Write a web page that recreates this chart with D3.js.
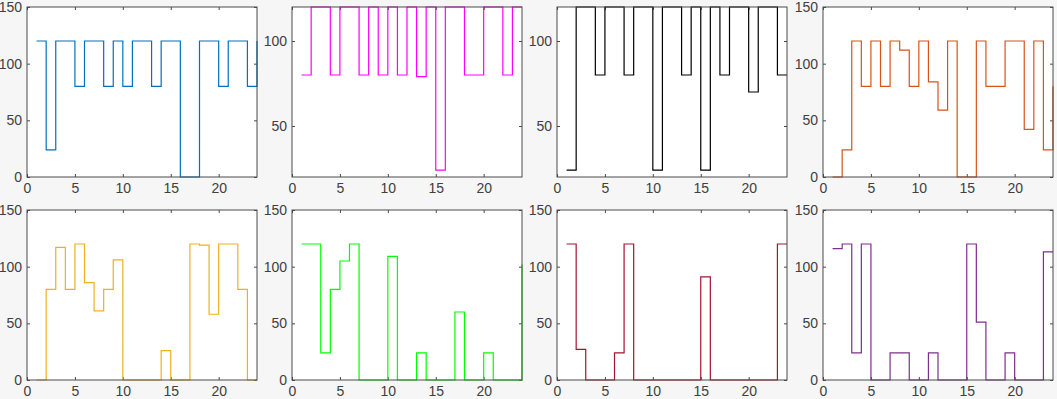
<!DOCTYPE html>
<html>
<head>
<meta charset="utf-8">
<script src="https://cdn.jsdelivr.net/npm/d3@7"></script>
<style>
  body { margin: 0; background: #f6f6f6; }
  svg { display: block; }
  .tick text { font-family: "Liberation Sans", Arial, sans-serif; font-size: 14px; fill: #404040; }
</style>
</head>
<body>
<svg id="chart"></svg>
<script>
// Hour index shared by every panel
var hours = d3.range(1, 25);

// One series per panel
var blueSeries    = [120, 24, 120, 120, 80, 120, 120, 80, 120, 80, 120, 120, 80, 120, 120, 0, 0, 120, 120, 80, 120, 120, 80, 120];
var magentaSeries = [80, 120, 120, 80, 120, 120, 80, 120, 80, 120, 80, 120, 79, 120, 24, 120, 120, 80, 80, 120, 120, 80, 120, 120];
var blackSeries   = [24, 120, 120, 80, 120, 120, 80, 120, 120, 24, 120, 120, 80, 120, 24, 120, 80, 120, 120, 70, 120, 120, 80, 80];
var orangeSeries  = [0, 24, 120, 80, 120, 80, 120, 112, 80, 120, 84, 59, 120, 0, 0, 120, 80, 80, 120, 120, 42, 120, 24, 80];
var yellowSeries  = [0, 80, 117, 80, 120, 86, 61, 80, 106, 0, 0, 0, 0, 26, 0, 0, 120, 119, 58, 120, 120, 80, 0, 0];
var greenSeries   = [120, 120, 24, 80, 105, 120, 0, 0, 0, 109, 0, 0, 24, 0, 0, 0, 60, 0, 0, 24, 0, 0, 0, 102];
var redSeries     = [120, 27, 0, 0, 0, 24, 120, 0, 0, 0, 0, 0, 0, 0, 91, 0, 0, 0, 0, 0, 0, 0, 120, 120];
var purpleSeries  = [116, 120, 24, 120, 0, 0, 24, 24, 0, 0, 24, 0, 0, 0, 120, 51, 0, 0, 24, 0, 0, 0, 113, 113];

// Tick labels
var xTicks = [0, 5, 10, 15, 20];
var yTicksFull = [0, 50, 100, 150];
var yTicksTight = [50, 100];

var panels = [
  { values: blueSeries,    color: '#0072BD', yDomain: [0, 150],  yTicks: yTicksFull },
  { values: magentaSeries, color: '#FF00FF', yDomain: [20, 120], yTicks: yTicksTight },
  { values: blackSeries,   color: '#000000', yDomain: [20, 120], yTicks: yTicksTight },
  { values: orangeSeries,  color: '#D95319', yDomain: [0, 150],  yTicks: yTicksFull },
  { values: yellowSeries,  color: '#EDB120', yDomain: [0, 150],  yTicks: yTicksFull },
  { values: greenSeries,   color: '#00FF00', yDomain: [0, 150],  yTicks: yTicksFull },
  { values: redSeries,     color: '#A2142F', yDomain: [0, 150],  yTicks: yTicksFull },
  { values: purpleSeries,  color: '#7E2F8E', yDomain: [0, 150],  yTicks: yTicksFull }
];

var WIDTH = 1057, HEIGHT = 399;
var PANEL_W = 230, PANEL_H = 170;
var LEFTS = [27, 292, 557, 823];
var TOPS = [7, 210];
var TICK = 3;

var svg = d3.select('#chart').attr('width', WIDTH).attr('height', HEIGHT);

panels.forEach(function (p, i) {
  var g = svg.append('g')
    .attr('transform', 'translate(' + LEFTS[i % 4] + ',' + TOPS[Math.floor(i / 4)] + ')');

  var x = d3.scaleLinear().domain([0, 24]).range([0, PANEL_W]);
  var y = d3.scaleLinear().domain(p.yDomain).range([PANEL_H, 0]);

  // white plot area
  g.append('rect').attr('width', PANEL_W).attr('height', PANEL_H).attr('fill', '#fff');

  // inward ticks on all four sides, labels only bottom and left
  var ax = [
    g.append('g').attr('transform', 'translate(0,' + PANEL_H + ')')
      .call(d3.axisBottom(x).tickValues(xTicks).tickSize(-TICK).tickSizeOuter(0).tickPadding(6)),
    g.append('g')
      .call(d3.axisLeft(y).tickValues(p.yTicks).tickSize(-TICK).tickSizeOuter(0).tickPadding(5)),
    g.append('g')
      .call(d3.axisTop(x).tickValues(xTicks).tickSize(-TICK).tickSizeOuter(0).tickFormat('')),
    g.append('g').attr('transform', 'translate(' + PANEL_W + ',0)')
      .call(d3.axisRight(y).tickValues(p.yTicks).tickSize(-TICK).tickSizeOuter(0).tickFormat(''))
  ];
  ax.forEach(function (a) {
    a.select('.domain').remove();
    a.selectAll('line').attr('stroke', '#4a4a4a');
  });

  // stairs line
  var line = d3.line()
    .x(function (d, j) { return x(hours[j]); })
    .y(function (d) { return y(d); })
    .curve(d3.curveStepAfter);

  g.append('path')
    .datum(p.values)
    .attr('d', line)
    .attr('fill', 'none')
    .attr('stroke', p.color)
    .attr('stroke-width', 1.2);

  // box
  g.append('rect').attr('width', PANEL_W).attr('height', PANEL_H)
    .attr('fill', 'none').attr('stroke', '#4a4a4a').attr('stroke-width', 1);
});
</script>
</body>
</html>
